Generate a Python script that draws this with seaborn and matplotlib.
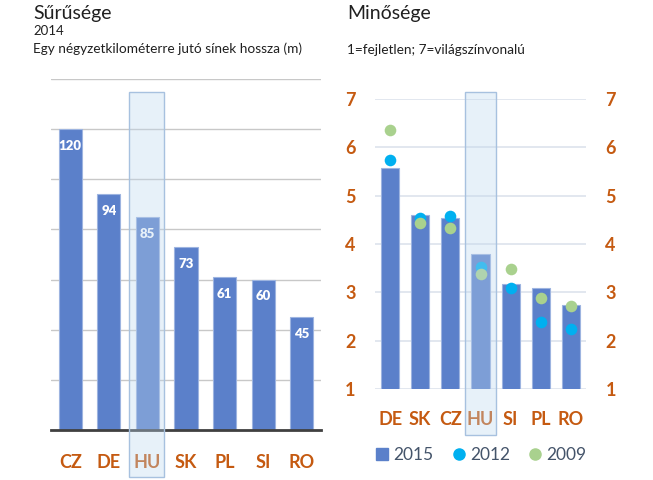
import matplotlib.pyplot as plt
import matplotlib.patches as mpatches
from matplotlib.lines import Line2D
import pandas as pd
import seaborn as sns

# density data (2014, m of track per km2)
density_countries = ["CZ", "DE", "HU", "SK", "PL", "SI", "RO"]
density_values = [120, 94, 85, 73, 61, 60, 45]

# quality data (1=undeveloped, 7=world class)
quality_countries = ["DE", "SK", "CZ", "HU", "SI", "PL", "RO"]
quality_2015 = [5.57, 4.60, 4.54, 3.79, 3.17, 3.10, 2.74]
quality_2012 = [5.73, 4.54, 4.57, 3.52, 3.09, 2.38, 2.24]
quality_2009 = [6.35, 4.43, 4.34, 3.37, 3.48, 2.88, 2.72]

BAR = "#5b80ca"
BAR_EDGE = "#9db4e0"
ORANGE = "#c55a11"
C2012 = "#00b0f0"
C2009 = "#a9d18e"

sns.set_style("white")
plt.rcParams["font.family"] = ["Lato", "DejaVu Sans"]

fig = plt.figure(figsize=(6.53, 4.8), dpi=100)
W, H = 653, 480


def fx(px):
    return px / W


def fy(py):
    return 1 - py / H


# ---- left panel: density ----
ax1 = fig.add_axes([fx(51), fy(430), fx(321) - fx(51), fy(79) - fy(430)])
df1 = pd.DataFrame({"country": density_countries, "value": density_values})
sns.barplot(data=df1, x="country", y="value", color=BAR, width=0.6,
            saturation=1, edgecolor=BAR_EDGE, linewidth=0.8, ax=ax1, zorder=3)
ax1.set_xlim(-0.5, 6.5)
ax1.set_ylim(0, 140)
ax1.set_yticks(range(0, 141, 20))
ax1.yaxis.grid(True, color="#c8c8c8", linewidth=1)
ax1.tick_params(axis="y", left=False, labelleft=False)
ax1.tick_params(axis="x", length=0, pad=17, labelsize=13, labelcolor=ORANGE)
for lab in ax1.get_xticklabels():
    lab.set_fontweight("bold")
for s in ["top", "right", "left"]:
    ax1.spines[s].set_visible(False)
ax1.spines["bottom"].set_color("#404040")
ax1.spines["bottom"].set_linewidth(2)
ax1.spines["bottom"].set_zorder(5)
ax1.set_xlabel("")
ax1.set_ylabel("")
for i, v in enumerate(density_values):
    ax1.annotate(str(v), (i, v), xytext=(0, -12), textcoords="offset points",
                 ha="center", va="center", color="white", fontsize=9.5,
                 fontweight="heavy", zorder=4)

# ---- right panel: quality ----
ax2 = fig.add_axes([fx(375), fy(389), fx(586) - fx(375), fy(99) - fy(389)])
df2 = pd.DataFrame({"country": quality_countries, "y2015": quality_2015,
                    "y2012": quality_2012, "y2009": quality_2009})
sns.barplot(data=df2, x="country", y="y2015", color=BAR, width=0.6,
            saturation=1, edgecolor=BAR_EDGE, linewidth=0.8, ax=ax2, zorder=3)
sns.scatterplot(data=df2, x="country", y="y2012", color=C2012, s=70,
                linewidth=0, ax=ax2, zorder=4)
sns.scatterplot(data=df2, x="country", y="y2009", color=C2009, s=70,
                linewidth=0, ax=ax2, zorder=4)
ax2.set_xlim(-0.5, 6.5)
ax2.set_ylim(1, 7)
ax2.set_yticks(range(1, 8))
ax2.yaxis.grid(True, color="#dde3ec", linewidth=1.2)
ax2.tick_params(axis="y", length=0, pad=14, labelsize=13, labelcolor=ORANGE,
                labelleft=True, labelright=True)
ax2.tick_params(axis="x", length=0, pad=16, labelsize=13, labelcolor=ORANGE)
for lab in ax2.get_xticklabels():
    lab.set_fontweight("bold")
for t in ax2.yaxis.get_major_ticks():
    t.label1.set_fontweight("bold")
    t.label2.set_fontweight("bold")
    t.label2.set_color(ORANGE)
for s in ax2.spines.values():
    s.set_visible(False)
ax2.set_xlabel("")
ax2.set_ylabel("")

# ---- HU highlight boxes (span outside the axes) ----
for x0, x1, y1 in [(129, 164, 477), (465, 496, 435)]:
    fig.patches.append(mpatches.Rectangle(
        (fx(x0), fy(y1)), fx(x1) - fx(x0), fy(92) - fy(y1),
        transform=fig.transFigure, facecolor="#bdd7ee", alpha=0.35,
        edgecolor="none", zorder=10))
    fig.patches.append(mpatches.Rectangle(
        (fx(x0), fy(y1)), fx(x1) - fx(x0), fy(92) - fy(y1),
        transform=fig.transFigure, facecolor="none",
        edgecolor="#a7c1df", linewidth=1, zorder=11))

# ---- titles ----
fig.text(fx(33), fy(13), "Sűrűsége", fontsize=14, va="center", color="#202020")
fig.text(fx(33), fy(31), "2014", fontsize=9.5, va="center", color="#202020")
fig.text(fx(33), fy(49), "Egy négyzetkilométerre jutó sínek hossza (m)",
         fontsize=9.8, va="center", color="#202020")
fig.text(fx(347), fy(13), "Minősége", fontsize=14, va="center", color="#202020")
fig.text(fx(347), fy(50), "1=fejletlen; 7=világszínvonalú", fontsize=9.8,
         va="center", color="#202020")

# ---- legend ----
handles = [
    Line2D([], [], marker="s", linestyle="", color=BAR, markersize=8),
    Line2D([], [], marker="o", linestyle="", color=C2012, markersize=8),
    Line2D([], [], marker="o", linestyle="", color=C2009, markersize=8),
]
fig.legend(handles, ["2015", "2012", "2009"], loc="center left",
           bbox_to_anchor=(fx(362), fy(455)), ncol=3, frameon=False,
           fontsize=12.5, labelcolor="#44546a", handletextpad=0.2,
           columnspacing=1.0, handlelength=0.9, borderpad=0.2)

fig.savefig("out.png", dpi=100)
